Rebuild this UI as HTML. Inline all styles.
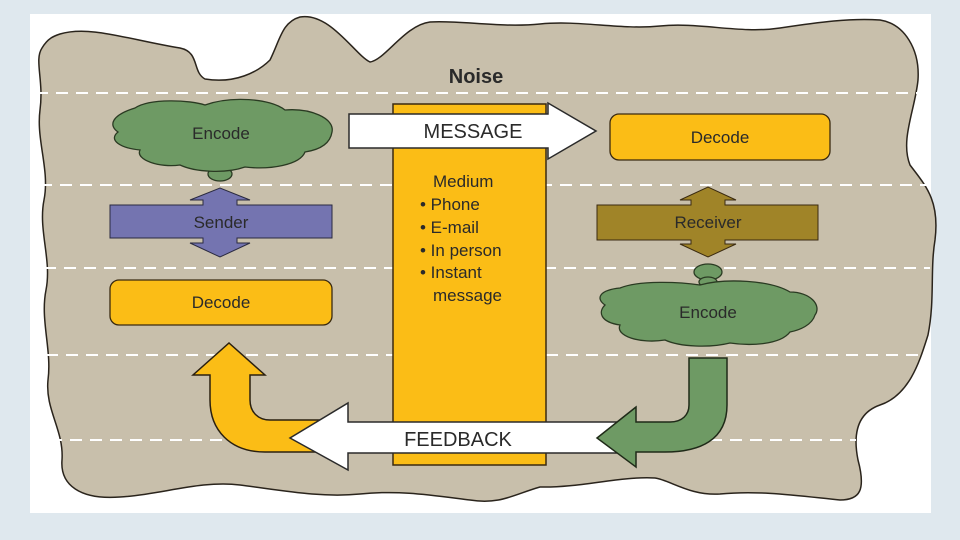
<!DOCTYPE html>
<html><head><meta charset="utf-8"><style>
html,body{margin:0;padding:0;background:#dfe8ee;}
svg{display:block}
text{font-family:"Liberation Sans",sans-serif;}
</style></head><body>
<svg width="960" height="540" viewBox="0 0 960 540" xmlns="http://www.w3.org/2000/svg">
<rect x="0" y="0" width="960" height="540" fill="#dfe8ee"/>
<rect x="30" y="14" width="901" height="499" fill="#ffffff"/>
<!-- blob -->
<path d="M60,34 C90,25 130,40 180,48 C200,52 192,72 205,79 C235,84 258,72 270,60 C280,40 282,22 300,17 C330,12 355,55 370,62 C385,60 405,25 430,22 C460,20 500,28 540,24 C580,20 620,30 660,26 C700,22 740,34 780,28 C820,22 850,18 880,20 C905,24 920,50 918,80 C915,110 900,140 910,165 C925,185 940,200 935,240 C930,270 935,300 928,335 C920,360 910,395 880,405 C860,412 852,430 858,460 C866,490 860,500 840,500 C800,496 760,490 720,494 C690,496 670,480 655,478 C620,476 580,488 540,487 C515,494 500,505 470,500 C430,495 400,490 360,494 C320,498 280,490 240,485 C200,480 160,495 120,497 C80,500 60,485 62,460 C64,430 45,410 48,380 C52,350 40,320 46,290 C52,260 38,230 44,200 C50,170 36,140 40,110 C44,80 34,60 42,48 C48,38 54,36 60,34 Z" fill="#c8bfab" stroke="#2a241c" stroke-width="1.5"/>
<text x="476" y="83" font-size="20" font-weight="bold" fill="#2a2a2a" text-anchor="middle">Noise</text>
<!-- dashed lines -->
<g stroke="#ffffff" stroke-width="2" stroke-dasharray="12,8" fill="none">
<line x1="36" y1="93" x2="924" y2="93"/>
<line x1="40" y1="185" x2="928" y2="185"/>
<line x1="44" y1="268" x2="930" y2="268"/>
<line x1="46" y1="355" x2="926" y2="355"/>
<line x1="50" y1="440" x2="856" y2="440"/>
</g>
<!-- medium rect -->
<rect x="393" y="104" width="153" height="361" fill="#fbbd16" stroke="#3a2a10" stroke-width="1.5"/>
<g font-size="17" fill="#2a2a2a">
<text x="433" y="187">Medium</text>
<text x="420" y="210">• Phone</text>
<text x="420" y="233">• E-mail</text>
<text x="420" y="256">• In person</text>
<text x="420" y="278">• Instant</text>
<text x="433" y="301">message</text>
</g>
<!-- message arrow -->
<path d="M349,114 L548,114 L548,103 L596,131 L548,159 L548,148 L349,148 Z" fill="#fff" stroke="#2a2a2a" stroke-width="1.5"/>
<text x="473" y="138" font-size="20" fill="#2a2a2a" text-anchor="middle">MESSAGE</text>
<!-- decode right -->
<rect x="610" y="114" width="220" height="46" rx="9" fill="#fbbd16" stroke="#3a2a10" stroke-width="1.3"/>
<text x="720" y="143" font-size="17" fill="#2a2a2a" text-anchor="middle">Decode</text>
<!-- encode left cloud -->
<g fill="#6e9a64" stroke="#2a3a22" stroke-width="1.3">
<ellipse cx="220" cy="174" rx="12" ry="7"/>
<path d="M135,108 C150,98 190,100 205,105 C230,96 270,98 285,110 C310,108 335,118 332,132 C330,145 318,150 305,152 C300,165 270,170 245,167 C225,174 195,172 180,165 C160,168 135,160 140,150 C120,148 108,140 118,132 C108,125 112,115 135,108 Z"/>
</g>
<text x="221" y="139" font-size="17" fill="#2a2a2a" text-anchor="middle">Encode</text>
<!-- sender -->
<path d="M203,205 L203,200 L190,200 L220,188 L250,200 L237,200 L237,205 L332,205 L332,238 L237,238 L237,243 L250,243 L220,257 L190,243 L203,243 L203,238 L110,238 L110,205 Z" fill="#7474b0" stroke="#2a2a40" stroke-width="1"/>
<text x="221" y="228" font-size="17" fill="#2a2a2a" text-anchor="middle">Sender</text>
<!-- decode left -->
<rect x="110" y="280" width="222" height="45" rx="9" fill="#fbbd16" stroke="#3a2a10" stroke-width="1.3"/>
<text x="221" y="308" font-size="17" fill="#2a2a2a" text-anchor="middle">Decode</text>
<!-- receiver -->
<path d="M691,205 L691,200 L680,200 L708,187 L736,200 L725,200 L725,205 L818,205 L818,240 L725,240 L725,244 L736,244 L708,257 L680,244 L691,244 L691,240 L597,240 L597,205 Z" fill="#a08428" stroke="#3a2a10" stroke-width="1"/>
<text x="708" y="228" font-size="17" fill="#2a2a2a" text-anchor="middle">Receiver</text>
<!-- encode right cloud -->
<g fill="#6e9a64" stroke="#2a3a22" stroke-width="1.3">
<ellipse cx="708" cy="272" rx="14" ry="8"/>
<ellipse cx="708" cy="282" rx="9" ry="5"/>
<path d="M620,288 C640,280 680,282 700,285 C725,278 770,280 790,292 C810,292 822,305 815,315 C812,325 800,330 790,332 C780,345 750,346 730,343 C710,348 680,347 665,340 C640,344 615,336 620,325 C600,322 598,312 605,305 C595,298 600,290 620,288 Z"/>
</g>
<text x="708" y="318" font-size="17" fill="#2a2a2a" text-anchor="middle">Encode</text>
<!-- yellow curved arrow -->
<path d="M210,375 L193,375 L229,343 L265,375 L250,375 L250,400 C250,412 258,420 270,420 L320,420 L320,452 L265,452 C230,452 210,430 210,400 Z" fill="#fbbd16" stroke="#2a2010" stroke-width="1.5"/>
<!-- feedback arrow -->
<path d="M620,422 L348,422 L348,403 L290,438 L348,470 L348,453 L620,453 Z" fill="#fff" stroke="#2a2a2a" stroke-width="1.5"/>
<text x="458" y="446" font-size="20" fill="#2a2a2a" text-anchor="middle">FEEDBACK</text>
<!-- green curved arrow -->
<path d="M689,358 L727,358 L727,405 C727,440 700,452 665,452 L636,452 L636,467 L597,438 L636,407 L636,422 L670,422 C682,422 689,415 689,405 Z" fill="#6e9a64" stroke="#1f2a18" stroke-width="1.5"/>
</svg>
</body></html>
